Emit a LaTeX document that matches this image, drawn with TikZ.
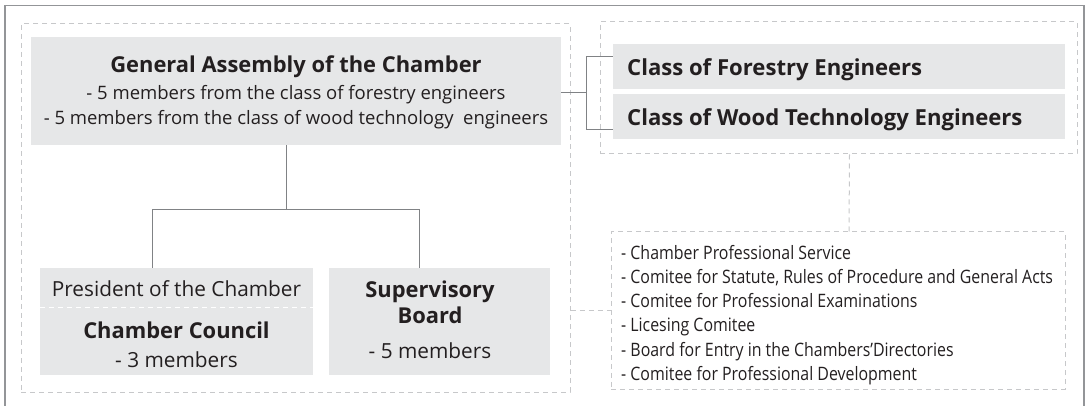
\documentclass[tikz,border=0pt]{standalone}
\usepackage{fontspec}
\setmainfont{Open Sans}
\newfontfamily\condfont{Open Sans}[FakeStretch=0.86]
\definecolor{txt}{HTML}{231F20}
\definecolor{boxgray}{HTML}{E6E7E8}
\definecolor{dashgray}{HTML}{C7C8CA}
\definecolor{conngray}{HTML}{808285}
\definecolor{framegray}{HTML}{939598}
\newcommand{\ttlfont}{\fontsize{21.9}{26}\selectfont\bfseries}
\newcommand{\bodyfont}{\fontsize{18.5}{25}\selectfont}
\newcommand{\subfont}{\fontsize{20.8}{26}\selectfont}
\newcommand{\listfont}{\condfont\fontsize{18.5}{24.2}\selectfont}
\begin{document}
\begin{tikzpicture}[x=1pt,y=-1pt,
  box/.style={fill=boxgray, inner sep=0pt},
  grp/.style={draw=dashgray, line width=1pt, dash pattern=on 5pt off 4pt, inner sep=0pt},
  conn/.style={draw=conngray, line width=1pt},
  dconn/.style={draw=dashgray, line width=1pt, dash pattern=on 5pt off 4pt},
  lbl/.style={text=txt, inner sep=0pt, anchor=base},
  ttl/.style={lbl, font=\ttlfont},
  body/.style={lbl, font=\bodyfont},
  sub/.style={lbl, font=\subfont}]
\useasboundingbox (0,0) rectangle (1088,406);
\draw[framegray, line width=1.3pt] (5,412) -- (5,5.5) -- (1084,5.5) -- (1084,412);

% groups
\node[grp, minimum width=549pt, minimum height=368pt] (lg) at (295.5,208) {};
\node[grp, minimum width=477pt, minimum height=132pt] (rg) at (838.5,88) {};

% General assembly
\node[box, minimum width=530pt, minimum height=108pt] (ga) at (296,91) {};
\node[ttl]  (ga1) at (296,72.8)  {General Assembly of the Chamber};
\node[body] (ga2) at (296,99.4)  {- 5 members from the class of forestry engineers};
\node[body] (ga3) at (296,124.4) {- 5 members from the class of wood technology\ \ engineers};

% classes
\node[box, minimum width=452pt, minimum height=45pt] (cf) at (839,66.5) {};
\node[box, minimum width=452pt, minimum height=45pt] (cw) at (839,116.5) {};
\node[ttl, anchor=base west, font=\fontsize{22.1}{26}\selectfont\bfseries] (cft) at (627,75.5) {Class of Forestry Engineers};
\node[ttl, anchor=base west, font=\fontsize{22.1}{26}\selectfont\bfseries] (cwt) at (627,125.5) {Class of Wood Technology Engineers};

% president / council
\node[box, minimum width=273pt, minimum height=107pt] (pc) at (176.5,321.5) {};
\draw[white, line width=1pt, dash pattern=on 5pt off 4pt] (pc.west |- 0,308) -- (pc.east |- 0,308);
\node[sub] (pc1) at (176.5,296.5) {President of the Chamber};
\node[ttl] (pc2) at (176.5,338.8) {Chamber Council};
\node[sub] (pc3) at (176.5,367)   {- 3 members};

% supervisory board
\node[box, minimum width=221pt, minimum height=107pt] (sb) at (439.5,321.5) {};
\node[ttl] (sb1) at (430,297.8) {Supervisory};
\node[ttl] (sb2) at (430,323.8) {Board};
\node[sub] (sb3) at (430,359)   {- 5 members};

% committees
\node[grp, minimum width=454pt, minimum height=157pt] (cm) at (838,310.5) {};
\node[text=txt, inner sep=0pt, anchor=west, align=left, font=\listfont] (cmt) at (621,315)
  {- Chamber Professional Service\\
   - Comitee for Statute, Rules of Procedure and General Acts\\
   - Comitee for Professional Examinations\\
   - Licesing Comitee\\
   - Board for Entry in the Chambers’Directories\\
   - Comitee for Professional Development};

% connectors
\draw[conn] ([yshift=-2pt]ga.east) -- ++(26,0) coordinate (jn);
\draw[conn] ([yshift=9.5pt]cf.west) -- ++(-26,0) -- ++(0,73) -- ([yshift=-13.5pt]cw.west);
\draw[conn] ([xshift=-10pt]ga.south) -- ++(0,64) coordinate (hj);
\draw[conn] ([xshift=-24.5pt]pc.north) |- (hj) -| ([xshift=-20.5pt]sb.north);
\draw[dconn] ([xshift=11pt]rg.south) -- ([xshift=11pt]cm.north);
\draw[dconn] (lg.east |- cm.west) -- (cm.west);
\end{tikzpicture}
\end{document}
